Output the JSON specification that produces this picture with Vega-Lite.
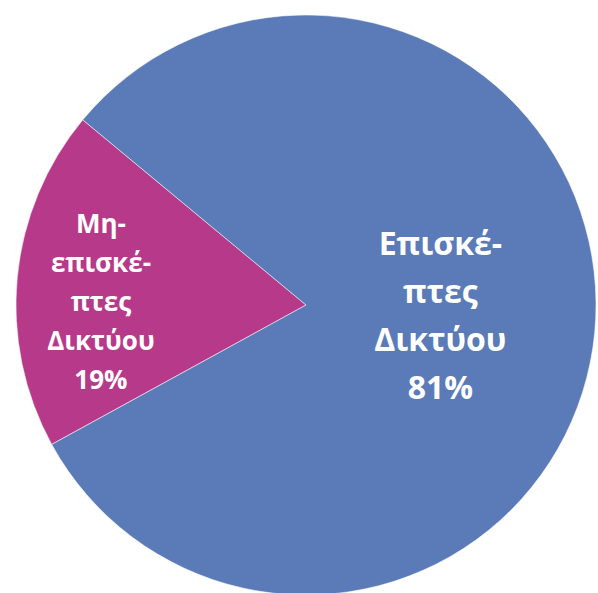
{
  "$schema": "https://vega.github.io/schema/vega-lite/v6.json",
  "width": 612,
  "height": 610,
  "padding": 0,
  "autosize": {"type": "none"},
  "background": "white",
  "view": {"stroke": null},
  "data": {"values": [
    {"cat": "Μη-επισκέπτες Δικτύου", "v": 19, "ord": 1, "label": "Μη-|επισκέ-|πτες|Δικτύου|19%"},
    {"cat": "Επισκέπτες Δικτύου", "v": 81, "ord": 2, "label": "Επισκέ-|πτες|Δικτύου|81%"}
  ]},
  "encoding": {
    "theta": {"field": "v", "type": "quantitative", "stack": true, "scale": {"range": [4.211, 10.494]}},
    "order": {"field": "ord", "type": "quantitative"}
  },
  "layer": [
    {
      "mark": {"type": "arc", "outerRadius": 290, "stroke": "white", "strokeWidth": 0.5},
      "encoding": {
        "color": {"field": "cat", "type": "nominal", "legend": null,
          "scale": {"domain": ["Μη-επισκέπτες Δικτύου", "Επισκέπτες Δικτύου"], "range": ["#B7398A", "#5B7BB8"]}}
      }
    },
    {
      "mark": {"type": "text", "radius": 135, "color": "white", "font": "Open Sans", "fontWeight": "bold", "fontSize": 32, "lineBreak": "|", "lineHeight": 48, "align": "center", "baseline": "middle", "dy": -73},
      "encoding": {
        "text": {"condition": {"test": "datum.ord === 2", "field": "label"}, "value": ""}
      }
    },
    {
      "mark": {"type": "text", "radius": 206, "color": "white", "font": "Open Sans", "fontWeight": "bold", "fontSize": 26, "lineBreak": "|", "lineHeight": 39, "align": "center", "baseline": "middle", "dy": -60},
      "encoding": {
        "text": {"condition": {"test": "datum.ord === 1", "field": "label"}, "value": ""}
      }
    }
  ]
}
